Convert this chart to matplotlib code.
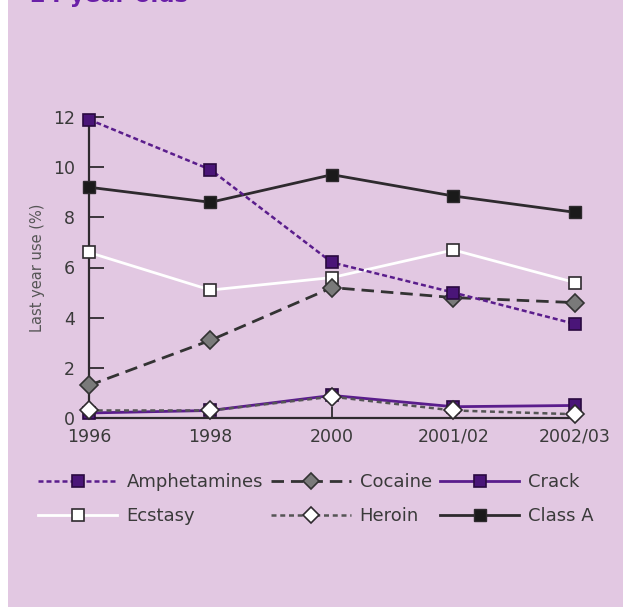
import numpy as np
import matplotlib.pyplot as plt
from matplotlib.patches import Rectangle

years = ["1996", "1998", "2000", "2001/02", "2002/03"]
amphetamines = [11.9, 9.9, 6.2, 5.0, 3.75]
cocaine = [1.3, 3.1, 5.2, 4.8, 4.6]
crack = [0.2, 0.3, 0.9, 0.45, 0.5]
ecstasy = [6.6, 5.1, 5.6, 6.7, 5.4]
heroin = [0.3, 0.3, 0.85, 0.3, 0.15]
class_a = [9.2, 8.6, 9.7, 8.85, 8.2]

bg = "#e2c8e2"
purple = "#5a1d8c"
dark = "#2e2a2e"

fig = plt.figure(figsize=(6.23, 6.07), dpi=100, facecolor=bg)
# white strip on the left edge
fig.patches.append(Rectangle((0, 0), 8 / 623, 1, transform=fig.transFigure,
                             facecolor="white", edgecolor="none", zorder=0))

ax = fig.add_axes([89 / 623, 1 - 418 / 607, (575 - 89) / 623, (418 - 117) / 607])
ax.set_facecolor(bg)
x = np.arange(len(years))

ax.plot(x, ecstasy, color="white", lw=2, marker="s", ms=9, mfc="white",
        mec=dark, mew=1.2, clip_on=False, zorder=3, label="Ecstasy")
ax.plot(x, class_a, color=dark, lw=2, marker="s", ms=9, mfc="#1a1a1a",
        mec=dark, clip_on=False, zorder=3, label="Class A")
ax.plot(x, cocaine, color="#333333", lw=2, dashes=(4.5, 2.5), marker="D", ms=9,
        mfc="#7a7a7a", mec="#333333", mew=1.2, clip_on=False, zorder=4, label="Cocaine")
ax.plot(x, amphetamines, color=purple, lw=1.8, dashes=(2, 1.2), marker="s", ms=9,
        mfc="#4a1578", mec="#2a0a40", mew=1.2, clip_on=False, zorder=5, label="Amphetamines")
ax.plot(x, crack, color=purple, lw=2, marker="s", ms=9, mfc="#4a1578",
        mec="#2a0a40", mew=1.2, clip_on=False, zorder=3, label="Crack")
ax.plot(x, heroin, color="#555555", lw=1.8, dashes=(2, 1.5), marker="D", ms=9,
        mfc="white", mec=dark, mew=1.2, clip_on=False, zorder=6, label="Heroin")

ax.set_xlim(0, 4)
ax.set_ylim(0, 12)
ax.set_xticks(x)
ax.set_xticklabels(years)
ax.set_yticks(range(0, 13, 2))
for s in ["top", "right"]:
    ax.spines[s].set_visible(False)
for s in ["left", "bottom"]:
    ax.spines[s].set_color(dark)
    ax.spines[s].set_linewidth(1.6)
ax.tick_params(axis="y", direction="in", length=11, width=1.3, color=dark,
               labelsize=12.5, labelcolor="#3a3a3a", pad=10)
ax.tick_params(axis="x", direction="in", length=8, width=1.3, color=dark,
               labelsize=12.5, labelcolor="#3a3a3a", pad=7)
ax.set_ylabel("Last year use (%)", fontsize=10.5, color="#555555", labelpad=6)

fig.text(30 / 623, 1 - 2 / 607, "24 year olds", fontsize=16.5, fontweight="bold",
         color="#6a1fa8", ha="left", va="baseline")

h, l = ax.get_legend_handles_labels()
order = ["Amphetamines", "Ecstasy", "Cocaine", "Heroin", "Crack", "Class A"]
hh = [h[l.index(n)] for n in order]
leg = fig.legend(hh, order, ncol=3, loc="upper left",
                 bbox_to_anchor=(38 / 623, 1 - 473 / 607), frameon=False,
                 fontsize=13, handlelength=4.4, handletextpad=0.5,
                 columnspacing=0.45, labelspacing=0.9,
                 borderpad=0, borderaxespad=0, markerscale=0.9)
for t in leg.get_texts():
    t.set_color("#3a3a3a")

fig.savefig("out.png", dpi=100, facecolor=bg)
